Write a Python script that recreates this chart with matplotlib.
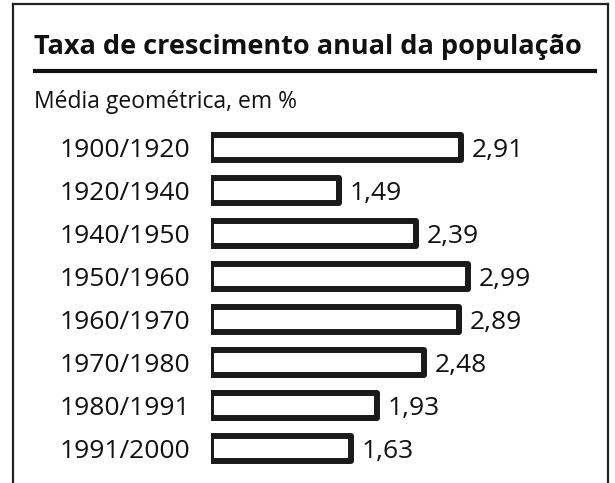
import matplotlib
matplotlib.use("Agg")
import matplotlib.pyplot as plt
from matplotlib.lines import Line2D

periods = ["1900/1920", "1920/1940", "1940/1950", "1950/1960",
           "1960/1970", "1970/1980", "1980/1991", "1991/2000"]
rates = [2.91, 1.49, 2.39, 2.99, 2.89, 2.48, 1.93, 1.63]
value_labels = ["2,91", "1,49", "2,39", "2,99", "2,89", "2,48", "1,93", "1,63"]
title = "Taxa de crescimento anual da população"
subtitle = "Média geométrica, em %"

W, H = 615, 483
fig = plt.figure(figsize=(W / 100, H / 100), dpi=100)
fig.patch.set_facecolor("white")
plt.rcParams['font.family'] = ['Open Sans', 'DejaVu Sans']

def px(x, y):
    return x / W, 1 - y / H

# frame: left, top, right lines (bottom open)
lw_frame = 1.6
fig.add_artist(Line2D([13 / W, 13 / W], [0, 1 - 4 / H], transform=fig.transFigure, color="#222", lw=lw_frame))
fig.add_artist(Line2D([608 / W, 608 / W], [0, 1 - 4 / H], transform=fig.transFigure, color="#222", lw=lw_frame))
fig.add_artist(Line2D([13 / W, 608 / W], [1 - 4 / H, 1 - 4 / H], transform=fig.transFigure, color="#222", lw=lw_frame))

# title and rule
fig.text(*px(34, 47), title, fontsize=19.5, fontweight="bold", va="center", ha="left", color="#111")
fig.add_artist(Line2D([35 / W, 595 / W], [1 - 71 / H, 1 - 71 / H], transform=fig.transFigure, color="#111", lw=3))
fig.text(*px(34, 102), subtitle, fontsize=16.5, va="center", ha="left", color="#111")

# bars axes
x0, scale = 211, 85.8
top_px, bot_px = 120, 475
c0, step = 147.5, 43.0
ax = fig.add_axes([x0 / W, 1 - bot_px / H, (W - x0) / W, (bot_px - top_px) / H])
ax.set_xlim(0, (W - x0) / scale)
ax.set_ylim((bot_px - c0) / step, (top_px - c0) / step)
ax.axis("off")

ypos = list(range(len(periods)))
ax.barh(ypos, rates, height=0.6, color="white", edgecolor="#1a1a1a", linewidth=4.3,
        joinstyle="round", left=0)
for y, v, lab, per in zip(ypos, rates, value_labels, periods):
    ax.annotate(lab, (v, y), xytext=(11, -3), textcoords="offset pixels",
                va="center", ha="left", fontsize=19, color="#111")
    ax.annotate(per, (0, y), xytext=(-21, -3), textcoords="offset pixels",
                va="center", ha="right", fontsize=19, color="#111")

fig.savefig("out.png", dpi=100, facecolor="white")
